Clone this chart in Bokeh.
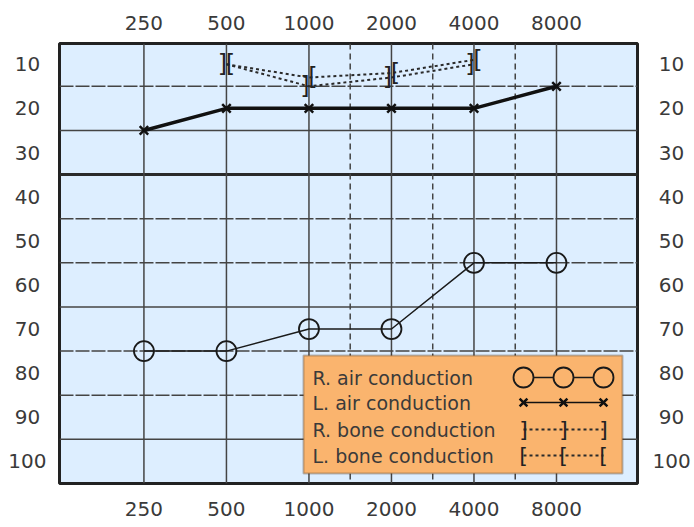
import math
from bokeh.plotting import figure
from bokeh.models import (Range1d, LogAxis, LinearAxis, FixedTicker, Span, BoxAnnotation,
                          Label, LinearScale)
from bokeh.embed import file_html
from bokeh.resources import INLINE
from bokeh.core.properties import value

# ---------------- data ----------------
freqs = [250, 500, 1000, 2000, 4000, 8000]
freq_labels = ["250", "500", "1000", "2000", "4000", "8000"]
db_ticks = [10, 20, 30, 40, 50, 60, 70, 80, 90, 100]
r_air = [75, 75, 70, 70, 55, 55]
l_air = [25, 20, 20, 20, 20, 15]
bone_freqs = [500, 1000, 2000, 4000]
r_bone = [10, 15, 13, 10]
l_bone = [10, 13, 12, 9]
h_grid = [15, 25, 35, 45, 55, 65, 75, 85, 95]
legend_labels = ["R. air conduction", "L. air conduction",
                 "R. bone conduction", "L. bone conduction"]

# ---------------- styles ----------------
FONT = "DejaVu Sans"
TXT = "#3a3a3a"
BG = "#ddeeff"
ORANGE = "#fab46e"
W, H = 694, 527
PSP = "\u2008"  # punctuation space, ~ half a digit wide

p = figure(width=W, height=H, x_axis_type="log",
           x_range=Range1d(123, 15800), y_range=Range1d(105, 5.3),
           output_backend="svg", toolbar_location=None,
           min_border_left=59, min_border_right=57,
           min_border_top=43, min_border_bottom=44,
           background_fill_color=BG, border_fill_color="white",
           outline_line_color="#222222", outline_line_width=3)
p.xgrid.visible = False
p.ygrid.visible = False

def style_axis(ax, standoff):
    ax.axis_line_color = None
    ax.major_tick_line_color = None
    ax.minor_tick_line_color = None
    ax.major_tick_out = 0
    ax.major_tick_in = 0
    ax.minor_tick_out = 0
    ax.minor_tick_in = 0
    ax.major_label_standoff = standoff
    ax.major_label_text_font = FONT
    ax.major_label_text_font_size = "20px"
    ax.major_label_text_color = TXT

x_over = {f: l for f, l in zip(freqs, freq_labels)}
top_ax = LogAxis()
p.add_layout(top_ax, "above")
right_ax = LinearAxis()
p.add_layout(right_ax, "right")
bottom_ax = p.below[0]
left_ax = p.left[0]

for ax, so in [(bottom_ax, 18), (top_ax, 14)]:
    ax.ticker = FixedTicker(ticks=freqs)
    ax.major_label_overrides = x_over
    style_axis(ax, so)

left_ax.ticker = FixedTicker(ticks=db_ticks)
left_ax.major_label_overrides = {d: (str(d) if d >= 100 else str(d) + PSP) for d in db_ticks}
style_axis(left_ax, 13)
right_ax.ticker = FixedTicker(ticks=db_ticks)
right_ax.major_label_overrides = {d: (str(d) if d >= 100 else PSP + str(d)) for d in db_ticks}
style_axis(right_ax, 15)

# ---------------- grid ----------------
for v in h_grid:
    thick = (v == 35)
    p.add_layout(Span(location=v, dimension="width",
                      line_color="#2a2a2a" if thick else "#444444",
                      line_width=3 if thick else 1.5,
                      line_dash="solid" if (thick or v in (25, 65, 95)) else "14 2",
                      level="underlay"))
for f in freqs:
    p.add_layout(Span(location=f, dimension="height", line_color="#444444",
                      line_width=1.5, level="underlay"))
for a, b in zip(freqs[2:], freqs[3:]):
    p.add_layout(Span(location=math.sqrt(a * b), dimension="height", line_color="#444444",
                      line_width=1.5, line_dash="6 4", level="underlay"))

# ---------------- data marks ----------------
p.line(freqs, r_air, line_color="#1a1a1a", line_width=1.5)
p.scatter(freqs, r_air, marker="circle", size=20, fill_alpha=0,
          line_color="#1a1a1a", line_width=1.8)

p.line(freqs, l_air, line_color="#111111", line_width=3.5)
p.scatter(freqs, l_air, marker="x", size=12, line_color="#111111", line_width=2.5)

p.line(bone_freqs, r_bone, line_color="#2a2a2a", line_width=2, line_dash="3 3")
p.line(bone_freqs, l_bone, line_color="#2a2a2a", line_width=2, line_dash="3 3")
p.text(bone_freqs, r_bone, text=["]"] * len(bone_freqs), x_offset=-4,
       text_align="center", text_baseline="middle", text_font=value(FONT),
       text_font_size="24px", text_color="#222222")
p.text(bone_freqs, l_bone, text=["["] * len(bone_freqs), x_offset=4,
       text_align="center", text_baseline="middle", text_font=value(FONT),
       text_font_size="24px", text_color="#222222")

# ---------------- legend (frame pixel space) ----------------
FW, FH = 578, 440
p.extra_x_ranges = {"px": Range1d(0, FW)}
p.extra_y_ranges = {"px": Range1d(FH, 0)}
p.extra_x_scales = {"px": LinearScale()}
p.extra_y_scales = {"px": LinearScale()}
LB = dict(left=244, right=563, top=312, bottom=430)
p.add_layout(BoxAnnotation(x_range_name="px", y_range_name="px",
                           fill_color=ORANGE, fill_alpha=1,
                           line_color="#3a2a1a", line_width=2, level="underlay", **LB))
row_y = [334, 359, 386, 412]
text_x = 253
sx = [464, 504, 544]
for lab, yy in zip(legend_labels, row_y):
    p.add_layout(Label(x=text_x, y=yy, x_range_name="px", y_range_name="px", text=lab,
                       text_baseline="middle", text_font=FONT, text_font_size="19px",
                       text_color=TXT))
kw = dict(x_range_name="px", y_range_name="px")
# row 1: circles
p.line(sx, [row_y[0]] * 3, line_color="#1a1a1a", line_width=1.5, **kw)
p.scatter(sx, [row_y[0]] * 3, marker="circle", size=20,
          fill_color=ORANGE, line_color="#1a1a1a", line_width=1.8, **kw)
# row 2: x
p.line(sx, [row_y[1]] * 3, line_color="#111111", line_width=1.5, **kw)
p.scatter(sx, [row_y[1]] * 3, marker="x", size=11,
          line_color="#111111", line_width=2.5, **kw)
# rows 3, 4: brackets
for yy, ch in [(row_y[2], "]"), (row_y[3], "[")]:
    p.line(sx, [yy] * 3, line_color="#2a2a2a", line_width=2, line_dash="3 3", **kw)
    p.text(sx, [yy] * 3, text=[ch] * 3,
           text_align="center", text_baseline="middle", text_font=value(FONT),
           text_font_size="22px", text_color="#222222", **kw)

open("out.html", "w").write(file_html(p, INLINE))
